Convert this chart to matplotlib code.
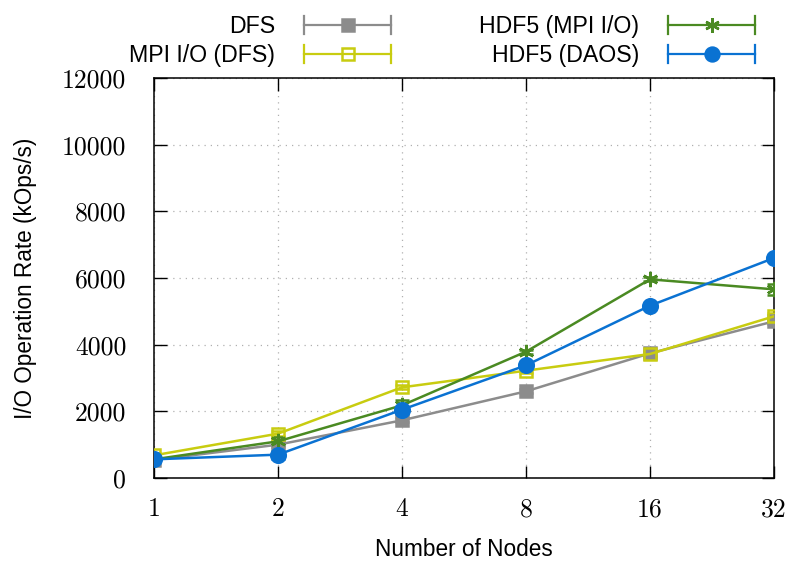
import matplotlib
matplotlib.use("Agg")
import matplotlib.pyplot as plt
from matplotlib.legend_handler import HandlerBase
from matplotlib.lines import Line2D

nodes = [1, 2, 4, 8, 16, 32]

dfs = [540, 1000, 1730, 2600, 3740, 4700]
dfs_err = [60, 80, 60, 60, 80, 80]
mpiio_dfs = [680, 1330, 2720, 3220, 3720, 4850]
mpiio_dfs_err = [60, 80, 60, 60, 80, 100]
hdf5_mpiio = [560, 1100, 2180, 3790, 5960, 5660]
hdf5_mpiio_err = [40, 120, 150, 60, 60, 160]
hdf5_daos = [560, 700, 2050, 3380, 5170, 6600]
hdf5_daos_err = [40, 120, 60, 60, 60, 40]

yticks = [0, 2000, 4000, 6000, 8000, 10000, 12000]


class CapLineHandler(HandlerBase):
    # gnuplot-style key sample: line with end caps and marker in the middle
    def __init__(self, color, marker, ms, mfc):
        super().__init__()
        self.color = color
        self.marker = marker
        self.ms = ms
        self.mfc = mfc

    def create_artists(self, legend, orig_handle, xdescent, ydescent,
                       width, height, fontsize, trans):
        yc = height / 2 - ydescent
        x0, x1 = -xdescent, width - xdescent
        cap = height * 0.55
        arts = [
            Line2D([x0, x1], [yc, yc], color=self.color, lw=1.6),
            Line2D([x0, x0], [yc - cap, yc + cap], color=self.color, lw=1.6),
            Line2D([x1, x1], [yc - cap, yc + cap], color=self.color, lw=1.6),
            Line2D([(x0 + x1) / 2], [yc], marker=self.marker, ms=self.ms,
                   color=self.color, mfc=self.mfc, mew=1.8, ls="none"),
        ]
        for a in arts:
            a.set_transform(trans)
        return arts


fig = plt.figure(figsize=(7.92, 5.64), dpi=100)
ax = fig.add_axes([154 / 792, 86 / 564, 620 / 792, 400 / 564])

series = [
    ("DFS", dfs, dfs_err, "#8c8c8c", "s", 9, "#8c8c8c"),
    ("MPI I/O (DFS)", mpiio_dfs, mpiio_dfs_err, "#c8cc10", "s", 9, "none"),
    ("HDF5 (MPI I/O)", hdf5_mpiio, hdf5_mpiio_err, "#4a8a22", (6, 2, 0), 11, "#4a8a22"),
    ("HDF5 (DAOS)", hdf5_daos, hdf5_daos_err, "#0a72d2", "o", 10.5, "#0a72d2"),
]

handles = []
handler_map = {}
for name, vals, err, col, mk, ms, mfc in series:
    ax.errorbar(nodes, vals, yerr=err, color=col, lw=1.8, marker=mk, ms=ms,
                mfc=mfc, mec=col, mew=1.8, capsize=5, elinewidth=1.4, zorder=3)
    h = Line2D([], [], color=col)
    handles.append(h)
    handler_map[h] = CapLineHandler(col, mk, ms * 0.95, mfc)

ax.set_xscale("log", base=2)
ax.set_xlim(1, 32)
ax.set_ylim(0, 12000)
ax.set_xticks(nodes)
ax.set_xticklabels([str(n) for n in nodes])
ax.set_yticks(yticks)
ax.set_yticklabels([str(v) for v in yticks])
ax.minorticks_off()

ax.grid(True, ls=(0, (1, 4)), color="#b0b0b0", lw=0.9)
ax.tick_params(direction="in", length=9, width=1, top=True, right=True,
               labelsize=18.5)
ax.tick_params(axis="x", pad=14)
ax.tick_params(axis="y", pad=20)
for lab in ax.get_xticklabels() + ax.get_yticklabels():
    lab.set_fontfamily("cmr10")
for sp in ax.spines.values():
    sp.set_linewidth(1.1)

ax.set_xlabel("Number of Nodes", fontsize=16.3, family="Liberation Sans", labelpad=12)
ax.set_ylabel("I/O Operation Rate (kOps/s)", fontsize=16.3, family="Liberation Sans", labelpad=18)

leg = fig.legend(handles, [s[0] for s in series],
                 handler_map=handler_map, ncol=2, markerfirst=False,
                 loc="upper right", bbox_to_anchor=(0.98, 1.01), frameon=False,
                 prop={"family": "Liberation Sans", "size": 16.7},
                 handlelength=3.75, handletextpad=1.25, columnspacing=3.8,
                 labelspacing=0.25)

fig.savefig("out.png", dpi=100)
